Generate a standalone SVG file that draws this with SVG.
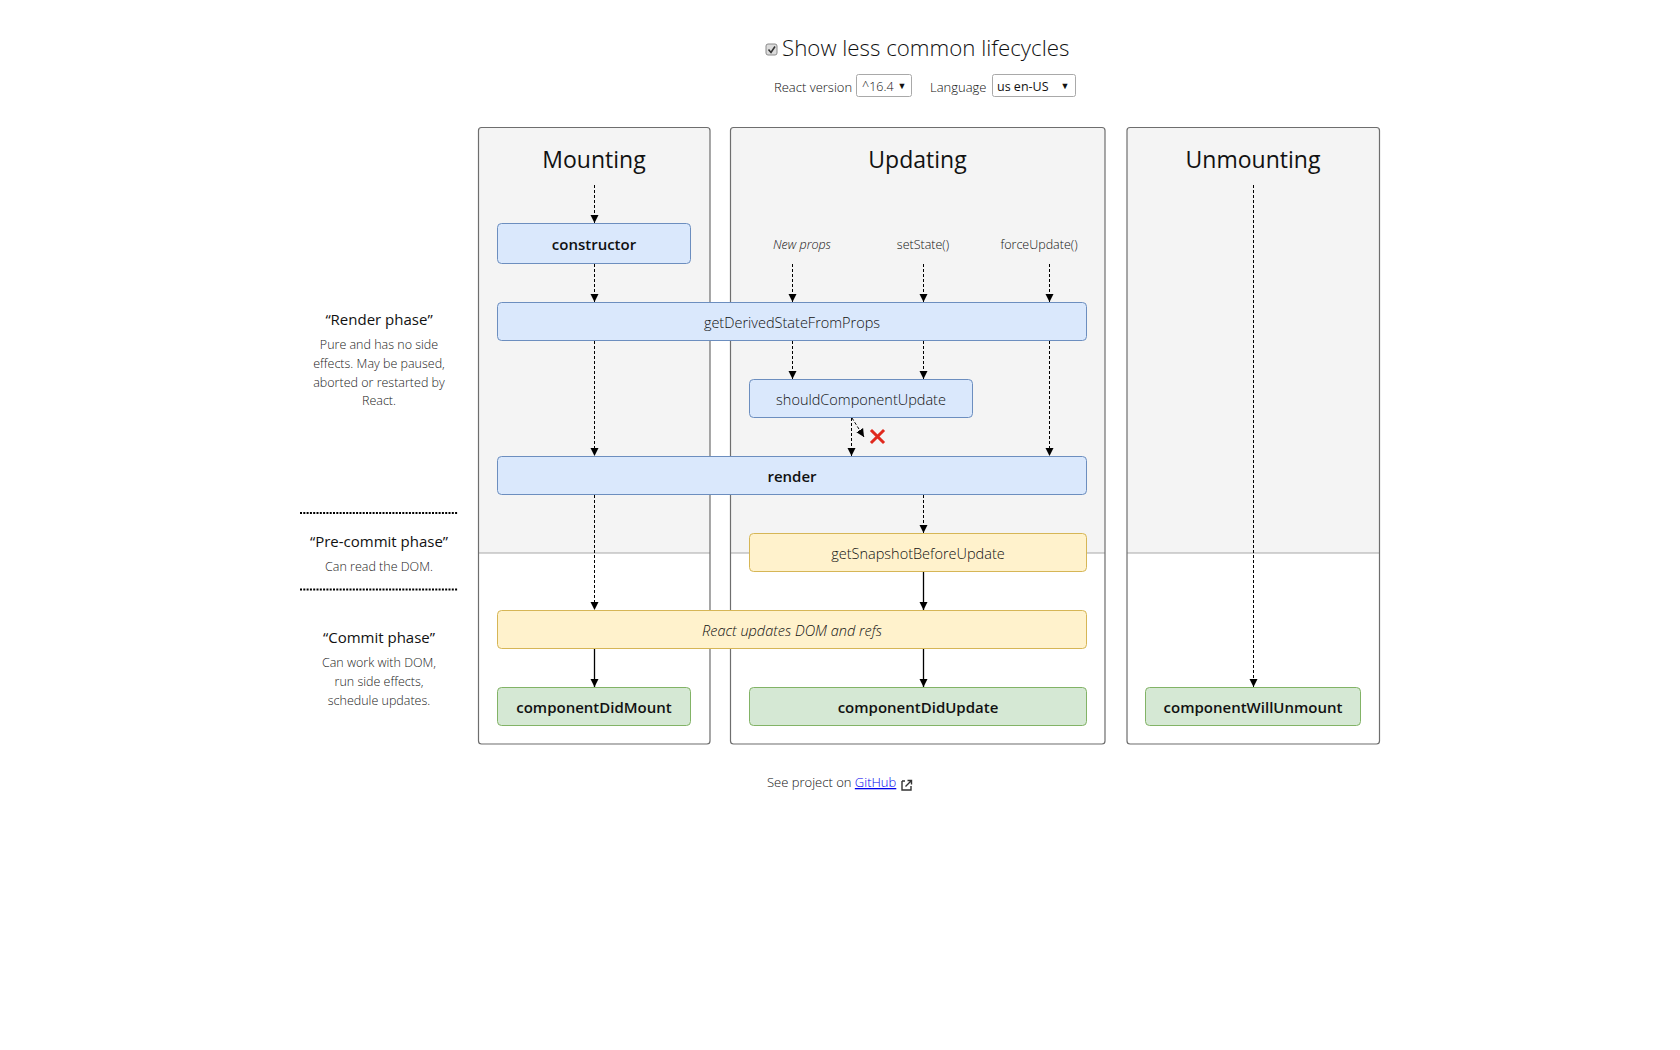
<svg xmlns="http://www.w3.org/2000/svg" width="1680" height="1050" viewBox="0 0 1680 1050">
  <style>
    text { font-family: "Open Sans", "Noto Sans", sans-serif; fill: #111; }
    .title { font-size: 23px; font-weight: 400; text-anchor: middle; }
    .lbl { font-size: 14.5px; font-weight: 300; text-anchor: middle; dominant-baseline: central; }
    .bold { font-size: 15px; font-weight: 600; text-anchor: middle; dominant-baseline: central; }
    .phase { font-size: 15px; font-weight: 400; text-anchor: middle; }
    .note { font-size: 12.5px; font-weight: 300; text-anchor: middle; fill: #222; }
    .blue { fill: #dae8fc; stroke: #6c8ebf; stroke-width: 1; }
    .yellow { fill: #fff2cc; stroke: #d6b656; stroke-width: 1; }
    .green { fill: #d5e8d4; stroke: #82b366; stroke-width: 1; }
    .col-bg { fill: #f4f4f4; }
    .col-low { fill: #ffffff; }
    .col-edge { fill: none; stroke: #6e6e6e; stroke-width: 1.2; }
    .divider { stroke: #a8a8a8; stroke-width: 1; }
    .dash { stroke: #000; stroke-width: 1; stroke-dasharray: 3 2; fill: none; marker-end: url(#arrow); }
    .solid { stroke: #000; stroke-width: 1.3; fill: none; marker-end: url(#arrow); }
    .dots { stroke: #000; stroke-width: 2; stroke-dasharray: 2 1.3; }
  </style>
  <defs>
    <marker id="arrow" viewBox="0 0 10 10" refX="10" refY="5" markerWidth="8" markerHeight="10" markerUnits="userSpaceOnUse" orient="auto">
      <path d="M0,0 L10,5 L0,10 z" fill="#000"/>
    </marker>
  </defs>

  <rect width="1680" height="1050" fill="#ffffff"/>

  <!-- header controls -->
  <g id="header">
    <rect x="766" y="44" width="11" height="11" rx="2" fill="#dcdcdc" stroke="#8a8a8a" stroke-width="1"/>
    <path d="M768.5,49.5 L771,52.5 L775,46.5" fill="none" stroke="#333" stroke-width="1.6"/>
    <text x="782" y="55.5" style="font-size:22.3px;font-weight:300">Show less common lifecycles</text>
    <text x="774" y="91.5" style="font-size:13px;font-weight:300">React version</text>
    <rect x="856.5" y="74.5" width="55" height="22" rx="2" fill="#fff" stroke="#a9a9a9"/>
    <text x="862" y="91" style="font-size:12.5px;font-weight:300">^16.4</text>
    <text x="902" y="89" style="font-size:9px;text-anchor:middle">▼</text>
    <text x="930" y="91.5" style="font-size:13px;font-weight:300">Language</text>
    <rect x="992.5" y="74.5" width="83" height="22" rx="2" fill="#fff" stroke="#a9a9a9"/>
    <text x="997" y="91" style="font-size:12.5px">us en-US</text>
    <text x="1065" y="89" style="font-size:9px;text-anchor:middle">▼</text>
  </g>

  <!-- column backgrounds and outlines -->
  <g id="columns">
    <rect x="478.5" y="127.5" width="231.5" height="616.5" rx="3" class="col-bg"/>
    <rect x="479" y="553" width="230.5" height="190.5" class="col-low"/>
    <rect x="730.5" y="127.5" width="374.5" height="616.5" rx="3" class="col-bg"/>
    <rect x="731" y="553" width="373.5" height="190.5" class="col-low"/>
    <rect x="1127" y="127.5" width="252.5" height="616.5" rx="3" class="col-bg"/>
    <rect x="1127.5" y="553" width="251.5" height="190.5" class="col-low"/>
    <line x1="478.5" y1="553" x2="710" y2="553" class="divider"/>
    <line x1="730.5" y1="553" x2="1105" y2="553" class="divider"/>
    <line x1="1127" y1="553" x2="1379.5" y2="553" class="divider"/>
    <rect x="478.5" y="127.5" width="231.5" height="616.5" rx="3" class="col-edge"/>
    <rect x="730.5" y="127.5" width="374.5" height="616.5" rx="3" class="col-edge"/>
    <rect x="1127" y="127.5" width="252.5" height="616.5" rx="3" class="col-edge"/>
  </g>

  <g id="col-mounting-title"><text x="594" y="168" class="title">Mounting</text></g>
  <g id="col-updating-title"><text x="917.5" y="168" class="title">Updating</text></g>
  <g id="col-unmounting-title"><text x="1253" y="168" class="title">Unmounting</text></g>

  <!-- trigger labels -->
  <g id="triggers">
    <text x="802" y="244.5" class="lbl" style="font-size:12.5px;font-style:italic">New props</text>
    <text x="923" y="244.5" class="lbl" style="font-size:12.5px">setState()</text>
    <text x="1039" y="244.5" class="lbl" style="font-size:12.5px">forceUpdate()</text>
  </g>

  <!-- lifecycle nodes -->
  <g id="constructor">
    <rect x="497.5" y="223.5" width="193" height="40" rx="4" class="blue"/>
    <text x="594" y="243.5" class="bold">constructor</text>
  </g>
  <g id="getDerivedStateFromProps">
    <rect x="497.5" y="302.5" width="589" height="38" rx="4" class="blue"/>
    <text x="792" y="322.5" class="lbl">getDerivedStateFromProps</text>
  </g>
  <g id="shouldComponentUpdate">
    <rect x="749.5" y="379.5" width="223" height="38" rx="4" class="blue"/>
    <text x="861" y="399.5" class="lbl">shouldComponentUpdate</text>
  </g>
  <g id="render">
    <rect x="497.5" y="456.5" width="589" height="38" rx="4" class="blue"/>
    <text x="792" y="476" class="bold">render</text>
  </g>
  <g id="getSnapshotBeforeUpdate">
    <rect x="749.5" y="533.5" width="337" height="38" rx="4" class="yellow"/>
    <text x="918" y="553.5" class="lbl">getSnapshotBeforeUpdate</text>
  </g>
  <g id="react-updates-dom">
    <rect x="497.5" y="610.5" width="589" height="38" rx="4" class="yellow"/>
    <text x="792" y="630.5" class="lbl" style="font-style:italic">React updates DOM and refs</text>
  </g>
  <g id="componentDidMount">
    <rect x="497.5" y="687.5" width="193" height="38" rx="4" class="green"/>
    <text x="594" y="707" class="bold">componentDidMount</text>
  </g>
  <g id="componentDidUpdate">
    <rect x="749.5" y="687.5" width="337" height="38" rx="4" class="green"/>
    <text x="918" y="707" class="bold">componentDidUpdate</text>
  </g>
  <g id="componentWillUnmount">
    <rect x="1145.5" y="687.5" width="215" height="38" rx="4" class="green"/>
    <text x="1253" y="707" class="bold">componentWillUnmount</text>
  </g>

  <!-- connectors -->
  <g id="connectors">
    <line x1="594.5" y1="185" x2="594.5" y2="223" class="dash"/>
    <line x1="594.5" y1="264" x2="594.5" y2="302" class="dash"/>
    <line x1="594.5" y1="341" x2="594.5" y2="456" class="dash"/>
    <line x1="594.5" y1="495" x2="594.5" y2="610" class="dash"/>
    <line x1="594.5" y1="649" x2="594.5" y2="687" class="solid"/>

    <line x1="792.5" y1="264" x2="792.5" y2="302" class="dash"/>
    <line x1="923.5" y1="264" x2="923.5" y2="302" class="dash"/>
    <line x1="1049.5" y1="264" x2="1049.5" y2="302" class="dash"/>

    <line x1="792.5" y1="341" x2="792.5" y2="379" class="dash"/>
    <line x1="923.5" y1="341" x2="923.5" y2="379" class="dash"/>
    <line x1="1049.5" y1="341" x2="1049.5" y2="456" class="dash"/>

    <line x1="851.5" y1="418" x2="851.5" y2="456" class="dash"/>
    <line x1="852" y1="418" x2="864" y2="437" class="dash"/>

    <line x1="923.5" y1="495" x2="923.5" y2="533" class="dash"/>
    <line x1="923.5" y1="572" x2="923.5" y2="610" class="solid"/>
    <line x1="923.5" y1="649" x2="923.5" y2="687" class="solid"/>

    <line x1="1253.5" y1="185" x2="1253.5" y2="687" class="dash"/>
  </g>

  <!-- rejected update mark -->
  <g id="no-update-mark">
    <path d="M872,431 L883,442 M883,431 L872,442" stroke="#e0291d" stroke-width="3" stroke-linecap="square"/>
  </g>

  <!-- phase notes -->
  <g id="render-phase">
    <text x="379" y="324.5" class="phase">“Render phase”</text>
    <text x="379" y="348.5" class="note">Pure and has no side</text>
    <text x="379" y="367.5" class="note">effects. May be paused,</text>
    <text x="379" y="386.5" class="note">aborted or restarted by</text>
    <text x="379" y="405" class="note">React.</text>
  </g>
  <g id="phase-separators">
    <line x1="300" y1="513" x2="458" y2="513" class="dots"/>
    <line x1="300" y1="589.5" x2="458" y2="589.5" class="dots"/>
  </g>
  <g id="pre-commit-phase">
    <text x="379" y="546.5" class="phase">“Pre-commit phase”</text>
    <text x="379" y="570.5" class="note">Can read the DOM.</text>
  </g>
  <g id="commit-phase">
    <text x="379" y="642.5" class="phase">“Commit phase”</text>
    <text x="379" y="667" class="note">Can work with DOM,</text>
    <text x="379" y="686" class="note">run side effects,</text>
    <text x="379" y="705" class="note">schedule updates.</text>
  </g>

  <!-- footer -->
  <g id="footer">
    <text x="767" y="787" style="font-size:13px;font-weight:300">See project on <tspan fill="#0000ee" text-decoration="underline">GitHub</tspan></text>
    <path d="M902,781 L902,790 L911,790 L911,786 M905,781 L902,781" fill="none" stroke="#333" stroke-width="1.4"/>
    <path d="M905.5,786.5 L911.5,780.5 M907.5,780.5 L911.5,780.5 L911.5,784.5" fill="none" stroke="#333" stroke-width="1.4"/>
  </g>
</svg>
